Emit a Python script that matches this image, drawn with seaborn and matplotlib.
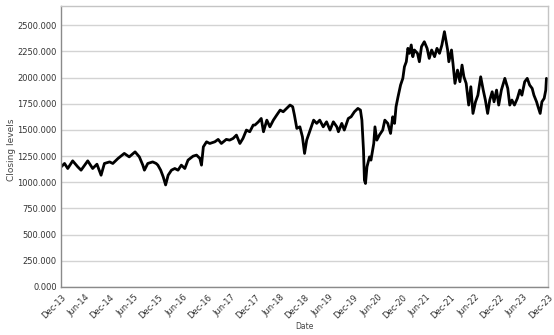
import matplotlib
matplotlib.use("Agg")
import matplotlib.pyplot as plt
import matplotlib.dates as mdates
import matplotlib.ticker as mticker
import pandas as pd
import seaborn as sns

dates = [
    "2013-12-03", "2013-12-28", "2014-01-21", "2014-02-27", "2014-04-06", "2014-05-01",
    "2014-06-20", "2014-07-27", "2014-08-28", "2014-09-28", "2014-10-23", "2014-12-01",
    "2014-12-25", "2015-02-02", "2015-03-21", "2015-04-27", "2015-06-10", "2015-07-12",
    "2015-08-07", "2015-08-19", "2015-09-13", "2015-10-20", "2015-11-15", "2015-11-28",
    "2015-12-19", "2016-01-07", "2016-01-25", "2016-02-13", "2016-03-09", "2016-04-03",
    "2016-04-27", "2016-05-22", "2016-06-17", "2016-07-11", "2016-08-18", "2016-09-13",
    "2016-10-08", "2016-10-20", "2016-11-03", "2016-11-27", "2016-12-21", "2017-01-28",
    "2017-02-22", "2017-03-18", "2017-04-24", "2017-05-19", "2017-06-14", "2017-07-09",
    "2017-08-04", "2017-08-27", "2017-09-22", "2017-10-17", "2017-11-12", "2017-11-25",
    "2017-12-21", "2018-01-11", "2018-01-28", "2018-02-22", "2018-03-17", "2018-04-12",
    "2018-05-07", "2018-06-02", "2018-06-25", "2018-07-20", "2018-08-15", "2018-09-04",
    "2018-09-17", "2018-10-05", "2018-10-28", "2018-11-16", "2018-12-02", "2018-12-18",
    "2019-01-13", "2019-02-08", "2019-03-03", "2019-03-26", "2019-04-21", "2019-05-16",
    "2019-06-11", "2019-07-06", "2019-08-01", "2019-08-13", "2019-09-07", "2019-09-26",
    "2019-10-26", "2019-11-16", "2019-12-11", "2020-01-06", "2020-01-25", "2020-02-05",
    "2020-02-17", "2020-02-24", "2020-03-03", "2020-03-14", "2020-04-02", "2020-04-13",
    "2020-05-04", "2020-05-13", "2020-05-27", "2020-06-15", "2020-07-10", "2020-07-26",
    "2020-08-17", "2020-09-07", "2020-09-23", "2020-10-07", "2020-10-18", "2020-11-02",
    "2020-11-21", "2020-12-08", "2020-12-20", "2021-01-03", "2021-01-15", "2021-01-27",
    "2021-02-09", "2021-02-21", "2021-03-05", "2021-03-28", "2021-04-11", "2021-04-27",
    "2021-05-18", "2021-06-08", "2021-06-24", "2021-07-12", "2021-08-03", "2021-08-21",
    "2021-09-09", "2021-09-27", "2021-10-16", "2021-11-09", "2021-11-18", "2021-12-08",
    "2021-12-19", "2022-01-03", "2022-01-22", "2022-02-09", "2022-02-25", "2022-03-11",
    "2022-03-28", "2022-04-16", "2022-05-02", "2022-05-18", "2022-06-06", "2022-06-24",
    "2022-07-15", "2022-08-03", "2022-08-19", "2022-09-05", "2022-09-21", "2022-10-09",
    "2022-10-23", "2022-11-11", "2022-11-27", "2022-12-17", "2023-01-12", "2023-02-03",
    "2023-02-18", "2023-03-06", "2023-03-25", "2023-04-16", "2023-05-04", "2023-05-20",
    "2023-06-10", "2023-06-29", "2023-07-17", "2023-08-05", "2023-08-18", "2023-09-07",
    "2023-09-18", "2023-10-04", "2023-10-17", "2023-11-03", "2023-11-15", "2023-11-20",
]

closing = [
    1148, 1180, 1132, 1205, 1148, 1116,
    1205, 1132, 1173, 1068, 1180, 1195,
    1180, 1228, 1276, 1243, 1291, 1243,
    1164, 1116, 1180, 1195, 1180, 1164,
    1116, 1052, 975, 1068, 1116, 1132,
    1116, 1164, 1132, 1212, 1250, 1260,
    1228, 1164, 1339, 1387, 1371, 1387,
    1410, 1371, 1410, 1403, 1419, 1451,
    1371, 1419, 1499, 1483, 1547, 1547,
    1578, 1610, 1483, 1594, 1530, 1594,
    1642, 1690, 1674, 1706, 1738, 1722,
    1642, 1515, 1530, 1435, 1276, 1403,
    1499, 1594, 1563, 1594, 1530, 1578,
    1499, 1578, 1530, 1483, 1563, 1499,
    1610, 1626, 1674, 1706, 1690, 1594,
    1307, 1020, 989, 1148, 1243, 1212,
    1371, 1530, 1403, 1451, 1499, 1594,
    1563, 1467, 1626, 1563, 1722, 1817,
    1929, 1993, 2104, 2152, 2280, 2232,
    2312, 2200, 2264, 2232, 2152, 2296,
    2343, 2280, 2184, 2264, 2200, 2280,
    2232, 2312, 2439, 2264, 2152, 2264,
    2136, 1945, 2072, 1961, 2120, 2008,
    1945, 1738, 1913, 1658, 1769, 1833,
    2008, 1881, 1786, 1658, 1786, 1865,
    1769, 1881, 1738, 1881, 1993, 1897,
    1738, 1786, 1738, 1802, 1881, 1833,
    1961, 1993, 1929, 1897, 1833, 1769,
    1722, 1658, 1769, 1802, 1881, 1993,
]

y_ticks = [0, 250, 500, 750, 1000, 1250, 1500, 1750, 2000, 2250, 2500]
x_start, x_end = "2013-12-01", "2023-12-01"

df = pd.DataFrame({"Date": pd.to_datetime(dates), "Closing levels": closing})

sns.set_style("white")
plt.rcParams["font.family"] = ["DejaVu Sans"]

fig = plt.figure(figsize=(5.54, 3.35), dpi=100)
ax = fig.add_axes([0.110, 0.1433, 0.879, 0.839])

sns.lineplot(data=df, x="Date", y="Closing levels", ax=ax, color="black", linewidth=2.0)

ax.set_xlim(pd.Timestamp(x_start), pd.Timestamp(x_end))
ax.set_ylim(0, 2685)
ax.set_yticks(y_ticks)
ax.yaxis.set_major_formatter(mticker.FormatStrFormatter("%.3f"))

ax.xaxis.set_major_locator(mdates.MonthLocator(bymonth=[6, 12], bymonthday=1))
ax.xaxis.set_major_formatter(mdates.DateFormatter("%b-%y"))

ax.grid(axis="y", color="#d3d3d3", linewidth=1.0)
ax.grid(axis="x", visible=False)
ax.set_axisbelow(True)

for lab in ax.get_xticklabels():
    lab.set_rotation(45)
    lab.set_ha("right")
    lab.set_rotation_mode("anchor")

ax.tick_params(axis="both", labelsize=6, colors="#333333", length=0, pad=3)
ax.tick_params(axis="x", pad=4)

for s in ["left", "bottom"]:
    ax.spines[s].set_color("#8a8a8a")
    ax.spines[s].set_linewidth(1.0)
for s in ["top", "right"]:
    ax.spines[s].set_color("#c4c4c4")
    ax.spines[s].set_linewidth(1.0)

ax.set_xlabel("Date", fontsize=5.5, color="#444444", labelpad=1)
ax.set_ylabel("Closing levels", fontsize=6.5, color="#444444", labelpad=3)
ax.yaxis.set_label_coords(-0.093, 0.49)

fig.savefig("out.png", dpi=100, facecolor="white")
